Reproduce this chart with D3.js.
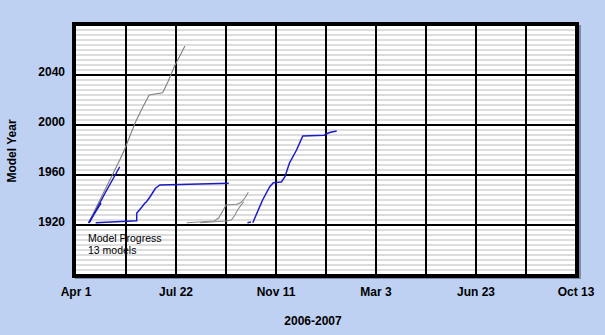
<!DOCTYPE html>
<html>
<head>
<meta charset="utf-8">
<script src="https://cdn.jsdelivr.net/npm/d3@7"></script>
<style>
body { margin: 0; background: #bfd1f2; }
svg { display: block; font-family: "Liberation Sans", Arial, sans-serif; }
</style>
</head>
<body>
<div id="chartDiv"></div>
<script>
// tick labels / axes
var yTicks = [1920, 1960, 2000, 2040];
var xStart = "2006-04-01", xEnd = "2007-10-13";
var xStepDays = 112;

// model runs: [date, model year]
var runGrayA = [["2006-04-15",1921.6],["2006-05-20",1972],["2006-05-26",1981.4],["2006-06-06",2001.4],["2006-06-15",2014.6],["2006-06-22",2024],["2006-07-07",2025.8],["2006-07-13",2034.6],["2006-07-20",2046.6],["2006-08-01",2063.2]];
var runBlueA = [["2006-04-16",1921.8],["2006-05-03",1944.8],["2006-05-20",1966.6]];
var runBlueB = [["2006-04-15",1921.6],["2006-04-29",1937.6]];
var runBlueC = [["2006-04-23",1921.8],["2006-06-08",1923.4],["2006-06-08",1929.4],["2006-06-14",1934.6],["2006-06-17",1937.4],["2006-06-19",1938.6],["2006-06-23",1942.6],["2006-06-29",1949.4],["2006-07-04",1952],["2006-09-19",1953.4]];
var runGrayB = [["2006-08-03",1921.8],["2006-08-21",1922.6],["2006-09-03",1923.2],["2006-09-08",1925.8],["2006-09-13",1932],["2006-09-16",1936],["2006-09-28",1936.6],["2006-10-03",1938.2],["2006-10-07",1941.4],["2006-10-11",1946.2]];
var runGrayC = [["2006-08-18",1921.8],["2006-09-16",1923.2],["2006-09-22",1924],["2006-09-26",1928],["2006-09-29",1932],["2006-10-03",1936],["2006-10-06",1938.6]];
var runBlueD = [["2006-10-10",1921.8],["2006-10-14",1922.4]];
var runBlueE = [["2006-10-16",1921.8],["2006-10-27",1940],["2006-11-04",1950.6],["2006-11-08",1953.8],["2006-11-17",1954.4],["2006-11-21",1958.6],["2006-11-26",1969.4],["2006-12-04",1980],["2006-12-11",1991.2],["2007-01-04",1991.8],["2007-01-08",1993.4],["2007-01-11",1994.2],["2007-01-18",1995.2]];

var runs = [runGrayA, runBlueA, runBlueB, runBlueC, runGrayB, runGrayC, runBlueD, runBlueE];
var runColors = ["#7f7f7f", "#1c1cc2", "#1c1cc2", "#1c1cc2", "#888888", "#888888", "#1c1cc2", "#1c1cc2"];

var width = 605, height = 335;
var parse = d3.utcParse("%Y-%m-%d");

var x = d3.scaleUtc()
    .domain([parse(xStart), parse(xEnd)])
    .range([76, 576]);

var y = d3.scaleLinear()
    .domain([1880, 2080])
    .range([275, 25]);

var svg = d3.select("#chartDiv").append("svg")
    .attr("width", width)
    .attr("height", height);

svg.append("rect")
    .attr("width", width).attr("height", height)
    .style("fill", "#bfd1f2");

// frame shadow + white plot
svg.append("rect")
    .attr("x", 75).attr("y", 25).attr("width", 506).attr("height", 254)
    .style("fill", "#7d8aa3");
svg.append("rect")
    .attr("x", 74).attr("y", 24).attr("width", 503).attr("height", 252)
    .style("fill", "#fff");

// minor horizontal lines, every 4 years
var minor = d3.range(1884, 2080, 4).filter(function (v) { return v % 40 != 0; });
svg.append("g").selectAll("line")
    .data(minor)
    .enter().append("line")
    .attr("x1", 76).attr("x2", 576)
    .attr("y1", function (d) { return y(d); })
    .attr("y2", function (d) { return y(d); })
    .style("stroke", "#d2d2d2")
    .style("stroke-width", 1.6);

// major grid
svg.append("g").selectAll("line")
    .data(yTicks)
    .enter().append("line")
    .attr("x1", 76).attr("x2", 576)
    .attr("y1", function (d) { return y(d); })
    .attr("y2", function (d) { return y(d); })
    .style("stroke", "#000")
    .style("stroke-width", 2);

var xGrid = d3.range(1, 10).map(function (i) { return d3.utcDay.offset(parse(xStart), i * 56); });
svg.append("g").selectAll("line")
    .data(xGrid)
    .enter().append("line")
    .attr("x1", function (d) { return x(d); })
    .attr("x2", function (d) { return x(d); })
    .attr("y1", 25).attr("y2", 275)
    .style("stroke", "#000")
    .style("stroke-width", 2);

// model progress lines
var line = d3.line()
    .x(function (d) { return x(parse(d[0])); })
    .y(function (d) { return y(d[1]); });

svg.append("g").selectAll("path")
    .data(runs)
    .enter().append("path")
    .attr("d", line)
    .style("fill", "none")
    .style("stroke", function (d, i) { return runColors[i]; })
    .style("stroke-width", function (d, i) { return runColors[i] == "#1c1cc2" ? 1.5 : 1.1; });

// border
svg.append("rect")
    .attr("x", 74).attr("y", 24).attr("width", 503).attr("height", 252)
    .style("fill", "none")
    .style("stroke", "#000")
    .style("stroke-width", 4);

// y tick labels
svg.append("g").selectAll("text")
    .data(yTicks)
    .enter().append("text")
    .attr("x", 65)
    .attr("y", function (d) { return y(d) + 0.5; })
    .attr("text-anchor", "end")
    .style("font-size", "12px")
    .style("font-weight", "bold")
    .text(function (d) { return d; });

// x tick labels
var xTicks = d3.range(0, 6).map(function (i) { return d3.utcDay.offset(parse(xStart), i * xStepDays); });
var fmt = d3.utcFormat("%b %-d");
svg.append("g").selectAll("text")
    .data(xTicks)
    .enter().append("text")
    .attr("x", function (d) { return x(d); })
    .attr("y", 296)
    .attr("text-anchor", "middle")
    .style("font-size", "12px")
    .style("font-weight", "bold")
    .text(function (d) { return fmt(d); });

svg.append("text")
    .attr("x", 313).attr("y", 325)
    .attr("text-anchor", "middle")
    .style("font-size", "12px")
    .style("font-weight", "bold")
    .text("2006-2007");

svg.append("text")
    .attr("transform", "translate(16,151) rotate(-90)")
    .attr("text-anchor", "middle")
    .style("font-size", "12px")
    .style("font-weight", "bold")
    .text("Model Year");

// note
svg.append("text")
    .attr("x", 88).attr("y", 242)
    .style("font-size", "10.5px")
    .text("Model Progress");
svg.append("text")
    .attr("x", 88).attr("y", 254)
    .style("font-size", "10.5px")
    .text("13 models");
</script>
</body>
</html>
